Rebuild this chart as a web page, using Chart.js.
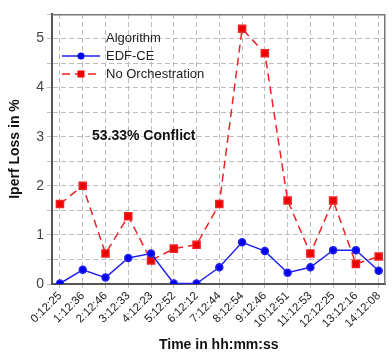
<!DOCTYPE html>
<html>
<head>
<meta charset="utf-8">
<script src="https://cdn.jsdelivr.net/npm/chart.js@4"></script>
<style>
  html, body { margin: 0; padding: 0; background: #fff; }
  #wrap { width: 392px; height: 354px; }
</style>
</head>
<body>
<div id="wrap"><canvas id="lossChart"></canvas></div>
<script>
var timeLabels = ["0:12:25", "1:12:36", "2:12:46", "3:12:33", "4:12:23", "5:12:52", "6:12:12", "7:12:44",
    "8:12:54", "9:12:46", "10:12:51", "11:12:53", "12:12:25", "13:12:16", "14:12:08"];
var edfCe = [0.01, 0.29, 0.13, 0.53, 0.62, 0.01, 0.01, 0.34, 0.85, 0.67, 0.23, 0.34, 0.69, 0.69, 0.27];
var noOrch = [1.63, 2.0, 0.62, 1.38, 0.48, 0.72, 0.80, 1.63, 5.2, 4.70, 1.70, 0.62, 1.70, 0.41, 0.56];
var yTicks = [0, 1, 2, 3, 4, 5];

var FONT = "'Liberation Sans', Arial, sans-serif";

function toPoints(arr) {
    return arr.map(function (v, i) { return { x: i, y: v }; });
}

// legend + annotation + frame drawn inside the plot
var overlay = {
    id: 'overlay',
    afterDraw: function (chart) {
        var c = chart.ctx;
        var a = chart.chartArea;
        c.save();
        // frame on top/right
        c.strokeStyle = '#777';
        c.lineWidth = 1.5;
        c.beginPath();
        c.moveTo(a.left, a.top + 0.75);
        c.lineTo(a.right - 0.75, a.top + 0.75);
        c.lineTo(a.right - 0.75, a.bottom);
        c.stroke();

        c.textBaseline = 'middle';
        c.fillStyle = '#222';
        c.font = '13px ' + FONT;
        c.fillText('Algorithm', 106, 38);
        c.fillText('EDF-CE', 106, 56);
        c.fillText('No Orchestration', 106, 74);

        c.strokeStyle = '#2222ee';
        c.lineWidth = 1.5;
        c.beginPath(); c.moveTo(62, 56); c.lineTo(100, 56); c.stroke();
        c.fillStyle = '#0000ee';
        c.beginPath(); c.arc(81, 56, 3.5, 0, Math.PI * 2); c.fill();

        c.strokeStyle = '#ee2222';
        c.setLineDash([8, 5]);
        c.beginPath(); c.moveTo(62, 74); c.lineTo(100, 74); c.stroke();
        c.setLineDash([]);
        c.fillStyle = '#ee0000';
        c.fillRect(77.5, 70.5, 7, 7);

        c.fillStyle = '#111';
        c.font = 'bold 14px ' + FONT;
        c.fillText('53.33% Conflict', 92, 136);
        c.restore();
    }
};

var ctx = document.getElementById('lossChart').getContext('2d');

var lossChart = new Chart(ctx, {
    type: 'line',
    data: {
        datasets: [{
            label: 'EDF-CE',
            data: toPoints(edfCe),
            borderColor: '#2222ee',
            backgroundColor: '#0000ee',
            borderWidth: 1.5,
            pointRadius: 3.5,
            pointStyle: 'circle',
            tension: 0
        }, {
            label: 'No Orchestration',
            data: toPoints(noOrch),
            borderColor: '#ee2222',
            backgroundColor: '#ee0000',
            borderWidth: 1.5,
            borderDash: [8, 5],
            pointRadius: 5,
            pointStyle: 'rect',
            tension: 0
        }]
    },
    options: {
        responsive: true,
        maintainAspectRatio: false,
        animation: false,
        layout: {
            padding: { top: 14, right: 2, left: 0, bottom: 0 }
        },
        scales: {
            x: {
                type: 'linear',
                min: -0.35,
                max: 14.3,
                afterBuildTicks: function (axis) {
                    axis.ticks = timeLabels.map(function (_, i) { return { value: i }; });
                },
                afterFit: function (axis) { axis.height = 70; },
                ticks: {
                    minRotation: 45,
                    maxRotation: 45,
                    autoSkip: false,
                    padding: 1,
                    color: '#222',
                    font: { family: FONT, size: 11.5 },
                    callback: function (value) { return timeLabels[value]; }
                },
                grid: { color: '#bdbdbd', tickLength: 4 },
                border: { color: '#555', width: 2, dash: [5, 3] },
                title: {
                    display: true,
                    text: 'Time in hh:mm:ss',
                    color: '#111',
                    padding: { top: 0, bottom: 0 },
                    font: { family: FONT, size: 14, weight: 'bold' }
                }
            },
            y: {
                min: 0,
                max: 5.5,
                afterFit: function (axis) { axis.width = 52; },
                ticks: {
                    stepSize: 0.5,
                    color: '#444',
                    padding: 3,
                    font: { family: FONT, size: 14 },
                    callback: function (value) { return yTicks.indexOf(value) >= 0 ? value : ''; }
                },
                grid: { color: '#bdbdbd', tickLength: 5 },
                border: { color: '#555', width: 2, dash: [5, 3] },
                title: {
                    display: true,
                    text: 'Iperf Loss in %',
                    color: '#111',
                    padding: { top: 7, bottom: 4 },
                    font: { family: FONT, size: 14, weight: 'bold' }
                }
            }
        },
        plugins: {
            legend: { display: false },
            tooltip: { enabled: false }
        }
    },
    plugins: [overlay]
});
</script>
</body>
</html>
